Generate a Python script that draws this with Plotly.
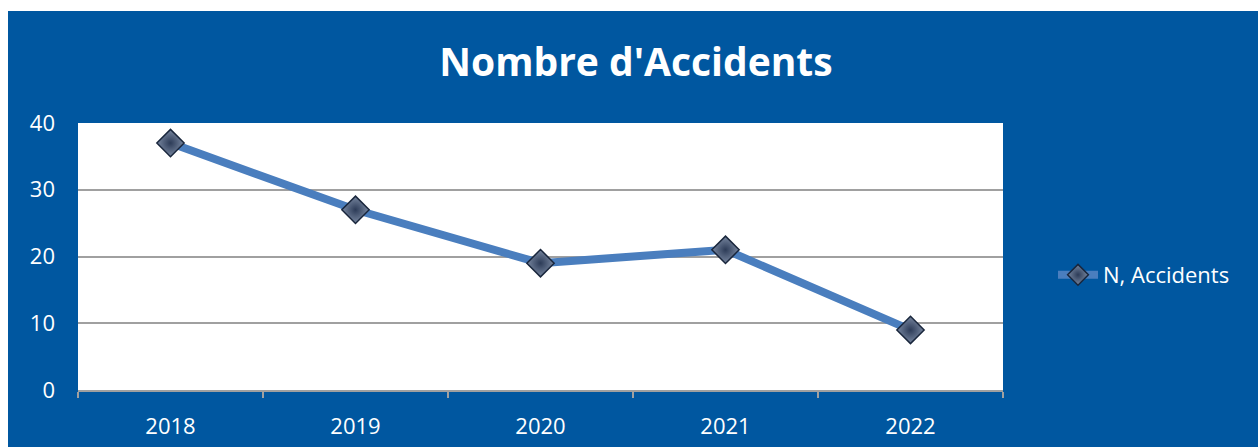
import plotly.graph_objects as go

years = ["2018", "2019", "2020", "2021", "2022"]
accidents = [37, 27, 19, 21, 9]
series_name = "N, Accidents"
title_text = "Nombre d'Accidents"

BLUE = "rgb(0,87,160)"
LINE = "rgb(74,126,190)"
FONT = "Open Sans"

W, H = 1258, 447
L, R, T, B = 78, 1003, 123, 390

fig = go.Figure()
fig.add_trace(go.Scatter(
    x=years, y=accidents, mode="lines+markers", name=series_name,
    line=dict(color=LINE, width=8),
    marker=dict(symbol="diamond", size=21, color="rgb(120,135,160)",
                gradient=dict(type="radial", color="rgb(45,60,88)"),
                line=dict(color="rgb(25,38,60)", width=1.5)),
))

fig.update_layout(
    width=W, height=H,
    margin=dict(l=L, r=W - R, t=T, b=H - B, pad=0),
    paper_bgcolor=BLUE, plot_bgcolor="white",
    font=dict(family=FONT, color="white", size=22),
    title=dict(text="<b>" + title_text + "</b>", x=636 / W, xanchor="center",
               xref="container", yref="container", y=1 - 62 / H, yanchor="middle",
               font=dict(size=39, color="white", family=FONT), automargin=False),
    showlegend=True,
    legend=dict(x=(1053 - L) / (R - L), xanchor="left", y=(B - 275) / (B - T), yanchor="middle",
                font=dict(size=22, color="white"), bgcolor="rgba(0,0,0,0)",
                itemwidth=40),
    xaxis=dict(type="category", range=[-0.5, 4.5], showgrid=False, automargin=False,
               showline=True, linecolor="rgb(160,160,160)", linewidth=1.5,
               ticks="outside", tickson="boundaries", ticklen=6, tickcolor="rgb(160,160,160)",
               tickwidth=1.5, ticklabelstandoff=16, zeroline=False, fixedrange=True),
    yaxis=dict(range=[0, 40], dtick=10, showgrid=True, gridcolor="rgb(160,160,160)",
               gridwidth=1.5, showline=False, zeroline=False, ticks="", automargin=False,
               ticklabelstandoff=22, fixedrange=True),
    shapes=[
        dict(type="rect", xref="paper", yref="paper", x0=-1, x1=2,
             y0=(B - 11) / (B - T), y1=3, fillcolor="white", line=dict(width=0), layer="below"),
        dict(type="rect", xref="paper", yref="paper", x0=-1, x1=(8 - L) / (R - L),
             y0=-1, y1=3, fillcolor="white", line=dict(width=0), layer="below"),
    ],
)

fig.write_html("out.html", config={"displayModeBar": False},
               post_script="document.body.style.margin='0';document.body.style.overflow='hidden';")
